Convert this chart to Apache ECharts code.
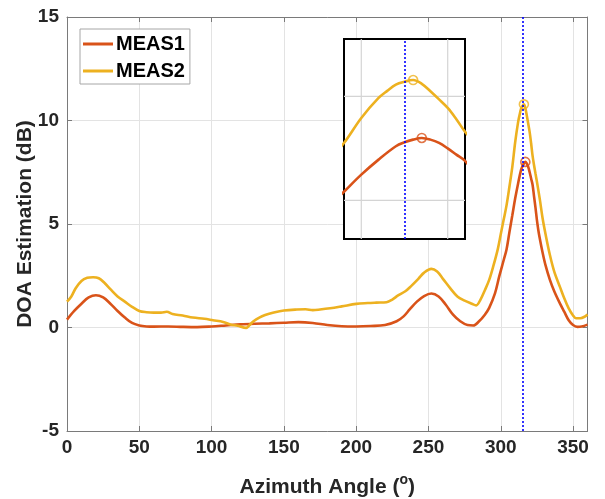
<!DOCTYPE html>
<html>
<head>
<meta charset="utf-8">
<script src="https://cdn.jsdelivr.net/npm/echarts@6/dist/echarts.min.js"></script>
<style>
  html, body { margin: 0; padding: 0; background: #ffffff; }
  #chart { width: 605px; height: 499px; }
</style>
</head>
<body>
<div id="chart"></div>
<script>
// Azimuth sample points (degrees) and DOA estimates (dB) for each measurement
const angle1 = [0, 5, 10, 15, 20, 25, 30, 35, 40, 45, 50, 55, 60, 70, 80, 90, 100, 110, 120, 130,
  140, 150, 160, 170, 180, 190, 200, 210, 220, 228, 233, 237, 242, 247, 252, 257, 262, 267, 272,
  277, 281, 285, 289, 292, 296, 299, 302, 304, 306, 308, 310, 312, 314, 315, 316, 317, 318, 319,
  320, 321, 322, 323, 324, 325, 326, 327, 329, 331, 334, 337, 341, 344, 347, 350, 353, 356, 360];
const meas1 = [0.38, 0.8, 1.15, 1.45, 1.56, 1.45, 1.15, 0.8, 0.48, 0.22, 0.1, 0.05, 0.04, 0.05,
  0.03, 0.02, 0.05, 0.1, 0.15, 0.18, 0.2, 0.23, 0.26, 0.22, 0.12, 0.06, 0.05, 0.07, 0.12, 0.3, 0.55,
  0.87, 1.25, 1.52, 1.64, 1.5, 1.1, 0.62, 0.3, 0.12, 0.1, 0.3, 0.62, 0.95, 1.65, 2.48, 3.25, 3.77,
  4.6, 5.42, 6.24, 6.96, 7.6, 7.79, 7.92, 8.0, 7.92, 7.76, 7.5, 7.2, 6.9, 6.35, 5.8, 5.2, 4.7, 4.3,
  3.6, 3.0, 2.3, 1.75, 1.15, 0.75, 0.35, 0.12, 0.03, 0.05, 0.14];

const angle2 = [0, 3, 6, 10, 14, 18, 22, 26, 30, 35, 40, 45, 50, 55, 60, 65, 69, 73, 80, 87, 95,
  101, 108, 113, 118, 124, 126, 129, 133, 137, 143, 150, 159, 165, 170, 175, 182, 190, 200, 208,
  214, 221, 225, 229, 234, 238, 243, 247, 252, 256, 260, 265, 270, 275, 280, 283, 286, 289, 292,
  295, 298, 300, 302, 304, 306, 308, 310, 312, 313, 314, 315, 316, 317, 318, 319, 320, 321, 322,
  323, 324, 325, 327, 329, 331, 334, 337, 341, 344, 347, 350, 352, 355, 358, 360];
const meas2 = [1.25, 1.5, 1.9, 2.25, 2.4, 2.43, 2.38, 2.15, 1.85, 1.5, 1.25, 1.0, 0.8, 0.74, 0.72,
  0.72, 0.76, 0.65, 0.58, 0.48, 0.42, 0.35, 0.27, 0.15, 0.08, -0.02, 0.1, 0.3, 0.48, 0.6, 0.72,
  0.82, 0.87, 0.88, 0.84, 0.87, 0.93, 1.02, 1.14, 1.18, 1.2, 1.22, 1.35, 1.55, 1.75, 2.0, 2.35,
  2.65, 2.83, 2.7, 2.35, 1.9, 1.5, 1.3, 1.15, 1.07, 1.35, 1.8, 2.3, 3.0, 3.8, 4.5, 5.2, 5.9, 6.8,
  7.76, 8.96, 9.92, 10.26, 10.56, 10.7, 10.78, 10.6, 10.24, 9.85, 9.44, 8.9, 8.3, 7.85, 7.45, 7.05,
  6.2, 5.25, 4.5, 3.5, 2.7, 1.95, 1.4, 0.92, 0.58, 0.45, 0.45, 0.52, 0.63];

const seriesNames = ['MEAS1', 'MEAS2'];
const xRange = [0, 360];
const yRange = [-5, 15];
const tickStep = { x: 50, y: 5 };
const steerAngle = 315;               // true source direction
const insetXRange = [308, 322];
const insetYRange = [3.15, 12.75];
const insetGridX = [310, 320];
const insetGridY = [5, 10];

const colors = ['#D95319', '#EDB120'];
const fontFamily = '"Liberation Sans", Arial, Helvetica, sans-serif';
const axisGray = '#262626';
const frameGray = '#7a7a7a';
const gridGray = '#e3e3e3';

function pairs(xs, ys) { return xs.map((x, i) => [x, ys[i]]); }
function peak(xs, ys) {
  let k = 0;
  ys.forEach((v, i) => { if (v > ys[k]) k = i; });
  return [xs[k], ys[k]];
}

// Inset grid lines as broken polyline segments spanning the inset's axis ranges
function insetGridSegments() {
  const pts = [];
  insetGridX.forEach(x => {
    pts.push([x, insetYRange[0]], [x, insetYRange[1]], [x, '-']);
  });
  insetGridY.forEach(y => {
    pts.push([insetXRange[0], y], [insetXRange[1], y], [insetXRange[0], '-']);
  });
  return pts;
}

const data1 = pairs(angle1, meas1);
const data2 = pairs(angle2, meas2);
const peak1 = peak(angle1, meas1);
const peak2 = peak(angle2, meas2);

const chart = echarts.init(document.getElementById('chart'), null, { renderer: 'canvas' });

const lineSeries = (name, data, color, xi, yi, z, extra) => Object.assign({
  name: name, type: 'line', data: data, xAxisIndex: xi, yAxisIndex: yi,
  showSymbol: false, symbol: 'none', smooth: 0.35, z: z,
  lineStyle: { color: color, width: 2.6 }, itemStyle: { color: color },
  emphasis: { disabled: true }
}, extra || {});

const peakSeries = (name, pt, color, xi, yi, z) => ({
  name: name, type: 'scatter', data: [pt], xAxisIndex: xi, yAxisIndex: yi,
  symbol: 'circle', symbolSize: 9, z: z,
  itemStyle: { color: 'rgba(255,255,255,0)', borderColor: color, borderWidth: 1.6 },
  emphasis: { disabled: true }
});

const steerLine = () => ({
  silent: true, symbol: ['none', 'none'], label: { show: false }, z: 8,
  lineStyle: { color: '#0000ff', type: [2, 2], width: 1.6 },
  emphasis: { disabled: true },
  data: [{ xAxis: steerAngle }]
});

const tickLabel = { fontFamily: fontFamily, fontSize: 19, fontWeight: 'bold', color: axisGray };
const frameLine = { show: true, onZero: false, lineStyle: { color: frameGray, width: 1 } };
const frameTick = { show: true, inside: true, length: 5, lineStyle: { color: frameGray } };

chart.setOption({
  animation: false,
  backgroundColor: '#ffffff',
  grid: [
    { left: 67, top: 17, right: 17.5, bottom: 68, containLabel: false, outerBoundsMode: 'none' },
    { left: 344, top: 39, right: 140, bottom: 260, show: true, z: 3, outerBoundsMode: 'none',
      backgroundColor: '#ffffff', borderColor: '#000000', borderWidth: 2 }
  ],
  legend: {
    data: seriesNames, orient: 'vertical', left: 80, top: 29,
    backgroundColor: '#ffffff', borderColor: '#a6a6a6', borderWidth: 1,
    padding: [5, 5, 3, 3], itemGap: 7, itemWidth: 30, itemHeight: 3,
    icon: 'rect', selectedMode: false, z: 10,
    textStyle: { fontFamily: fontFamily, fontSize: 20, fontWeight: 'bold', color: '#000000', padding: [0, 0, 0, -2] }
  },
  xAxis: [
    { type: 'value', gridIndex: 0, min: xRange[0], max: xRange[1], interval: tickStep.x, position: 'bottom',
      name: 'Azimuth Angle ({s|o})', nameLocation: 'middle', nameGap: 42, nameMoveOverlap: false,
      nameTextStyle: { fontFamily: fontFamily, fontSize: 21, fontWeight: 'bold', color: axisGray,
        rich: { s: { fontFamily: fontFamily, fontSize: 14, fontWeight: 'bold', color: axisGray, padding: [0, 0, 14, 0] } } },
      axisLine: frameLine, axisTick: frameTick,
      axisLabel: Object.assign({ margin: 7, showMaxLabel: false }, tickLabel),
      splitLine: { show: true, lineStyle: { color: gridGray, width: 1 } } },
    { type: 'value', gridIndex: 0, min: xRange[0], max: xRange[1], interval: tickStep.x, position: 'top',
      axisLine: frameLine, axisTick: frameTick,
      axisLabel: { show: false }, splitLine: { show: false } },
    { type: 'value', gridIndex: 1, min: insetXRange[0], max: insetXRange[1], show: false }
  ],
  yAxis: [
    { type: 'value', gridIndex: 0, min: yRange[0], max: yRange[1], interval: tickStep.y, position: 'left',
      name: 'DOA Estimation (dB)', nameLocation: 'middle', nameGap: 31, nameRotate: 90, nameMoveOverlap: false,
      nameTextStyle: { fontFamily: fontFamily, fontSize: 21, fontWeight: 'bold', color: axisGray },
      axisLine: frameLine, axisTick: frameTick,
      axisLabel: Object.assign({ margin: 8 }, tickLabel),
      splitLine: { show: true, lineStyle: { color: gridGray, width: 1 } } },
    { type: 'value', gridIndex: 0, min: yRange[0], max: yRange[1], interval: tickStep.y, position: 'right',
      axisLine: frameLine, axisTick: frameTick,
      axisLabel: { show: false }, splitLine: { show: false } },
    { type: 'value', gridIndex: 1, min: insetYRange[0], max: insetYRange[1], show: false }
  ],
  series: [
    lineSeries(seriesNames[0], data1, colors[0], 0, 0, 2),
    lineSeries(seriesNames[1], data2, colors[1], 0, 0, 2, { markLine: steerLine() }),
    peakSeries('MEAS1 peak', peak1, colors[0], 0, 0, 3),
    peakSeries('MEAS2 peak', peak2, colors[1], 0, 0, 3),
    { name: 'inset grid', type: 'line', data: insetGridSegments(), xAxisIndex: 2, yAxisIndex: 2,
      showSymbol: false, symbol: 'none', connectNulls: false, silent: true, z: 4,
      lineStyle: { color: '#d4d4d4', width: 1.2 }, emphasis: { disabled: true } },
    lineSeries(seriesNames[0], data1, colors[0], 2, 2, 6),
    lineSeries(seriesNames[1], data2, colors[1], 2, 2, 6, { markLine: steerLine() }),
    peakSeries('MEAS1 peak', peak1, colors[0], 2, 2, 7),
    peakSeries('MEAS2 peak', peak2, colors[1], 2, 2, 7)
  ]
});
</script>
</body>
</html>
